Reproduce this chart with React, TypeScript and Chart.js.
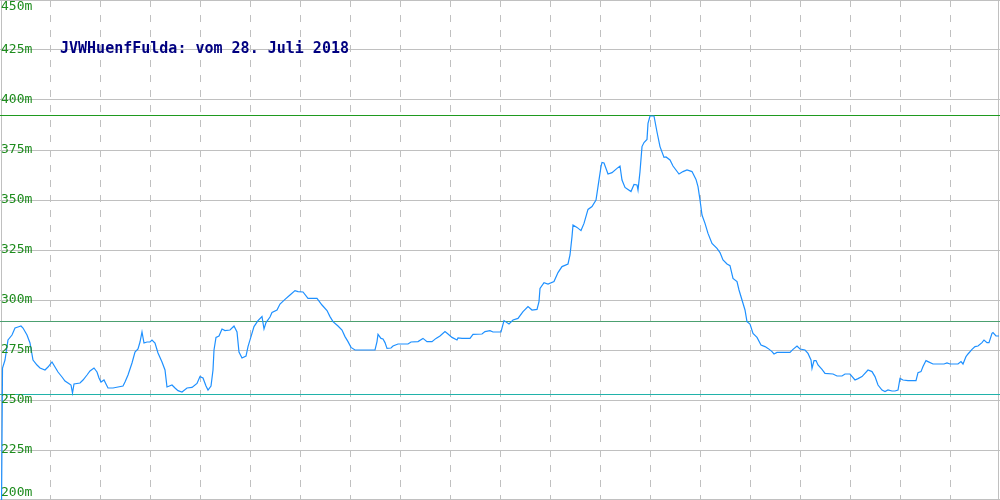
import { useEffect, useRef } from "react";
import { Chart, registerables } from "chart.js";

Chart.register(...registerables);

const chartTitle = "JVWHuenfFulda: vom 28. Juli 2018";
const yTicks = [200, 225, 250, 275, 300, 325, 350, 375, 400, 425, 450];
const yTickLabels = yTicks.map((v) => `${v}m`);
const xGridLines = [50, 100, 150, 200, 250, 300, 350, 400, 450, 500, 550, 600, 650, 700, 750, 800, 850, 900, 950];
const maxAlt = 392;
const avgAlt = 289.5;
const minAlt = 253;

// distance along track (sample position) and altitude in metres
const dist = [
  1.5, 2.5, 5, 8, 12, 15, 18, 21, 23, 27, 30, 33, 37, 40, 45, 48, 52, 55, 58, 62, 65, 68, 71, 72.5, 74, 80, 83, 87, 90, 94,
  97, 99, 101, 104, 106, 108, 113, 118, 123, 125, 128, 132, 135, 138, 140, 142, 144, 147, 150, 152, 155, 158, 162, 165, 167,
  172, 175, 178, 182, 187, 192, 197, 200, 203, 206, 208, 211, 213, 214, 216, 219, 222, 225, 230, 234, 237, 239, 242, 246,
  248, 251, 254, 258, 262, 264, 266, 270, 272, 277, 280, 285, 290, 295, 298, 303, 308, 317, 322, 327, 330, 333, 338, 342,
  345, 348, 351, 355, 375, 377, 378, 381, 383, 385, 387, 391, 393, 398, 408, 411, 418, 423, 427, 432, 436, 440, 445, 448,
  452, 457, 458, 462, 470, 473, 482, 485, 490, 493, 501, 504, 509, 513, 518, 523, 528, 532, 537, 539, 540, 544, 548, 554,
  558, 562, 568, 570, 572, 573, 577, 581, 584, 588, 592, 596, 598, 601, 602, 604, 608, 612, 617, 620, 622, 625, 628, 631,
  634, 637, 638, 640, 642, 644, 647, 648, 650, 654, 657, 660, 664, 666, 670, 673, 679, 683, 687, 692, 696, 698, 700, 702,
  705, 708, 712, 717, 720, 723, 727, 730, 733, 737, 739, 742, 745, 747, 750, 753, 757, 761, 765, 768, 772, 774, 777, 790,
  793, 797, 800, 805, 808, 811, 812, 814, 816, 818, 822, 825, 833, 837, 842, 845, 850, 855, 858, 862, 868, 872, 875, 878,
  882, 885, 888, 892, 895, 898, 900, 903, 908, 916, 918, 921, 923, 926, 928, 933, 944, 947, 950, 958, 961, 963, 966, 968,
  972, 975, 978, 982, 984, 987, 989, 992, 993, 996, 999,
];
const alt = [
  195, 266, 270, 280, 282.5, 286, 286.5, 287, 286, 282.5, 278.5, 270, 267.5, 266, 265, 266.5, 269, 266.5, 264, 261.5, 259.5,
  258.5, 257.5, 253.5, 258, 258.5, 260, 262.5, 264.5, 266, 264, 261, 259, 260, 258, 256, 256, 256.5, 257, 259, 262.5, 268.5,
  274, 275.5, 279, 284, 278.5, 279, 279, 280, 278.5, 273.5, 269, 265, 256.5,
  257.5, 256, 254.7, 254, 256, 256.3, 258.3, 261.7, 261, 257, 255, 257, 265, 275, 281.3, 282, 285.5, 284.7, 285, 287, 284,
  274, 271, 272, 276.7, 281.7, 286.7, 289.7, 291.7, 285.5, 288.7, 291.5, 293.8, 295, 298, 300.3, 302.5, 304.7, 304.2, 304,
  300.8, 300.8, 297.5, 294.7, 291.7, 289.2, 287, 285, 281.7, 279.2, 276.3, 275, 275, 279.2, 282.8, 280.8, 280.5, 278.7,
  275.8, 276, 277, 278, 278, 279, 279.2, 280.8, 279.2, 279.2, 280.8, 282, 284.2, 283, 281.3, 280, 281, 280.8, 280.8, 282.8,
  283, 284.2, 284.7, 284, 284, 289.7, 288, 290, 290.8, 294.2, 296.7, 295, 295.3, 299.2, 305.8, 308.7, 308, 309.2, 313.7,
  316.7, 318, 322.5, 331.7, 337.5, 336.3, 334.7, 338.3, 345.3, 346.7, 350, 356.7, 366.7, 368.8, 368.5, 363, 363.7, 365.8,
  367, 360, 356.3, 355.3, 354.2, 357.8, 357.5, 355, 364.2, 376.7, 378.7, 380.3, 388.3, 392, 392, 384, 376.7, 371.3, 371.5,
  370, 367, 363, 364.2, 365, 364.2, 360.3, 356.7, 350, 342.5, 338.3, 333.3, 328.3, 325.8, 323.7, 320, 318, 317.2, 310.8,
  309.2, 305, 300, 295, 289.2, 288, 283.3, 281.3, 277.5, 276.7, 275.8, 274.2, 273, 273.8, 273.8, 275.3, 277, 275.5, 275,
  273.3, 270, 265.8, 269.7, 269.7, 267.5, 265.3, 263.3, 263, 262, 262, 263, 263, 260, 260.7, 261.7, 265, 264.2, 261.7,
  257.5, 255, 254.2, 255, 254.5, 254.5, 255, 260.8, 260, 259.7, 259.7, 263.7, 264.2, 266.7, 269.7, 269.2, 268, 268, 268.5,
  268, 268, 269.2, 268, 271.7, 273, 275.3, 276.7, 277, 278.7, 280, 278.7, 278.7, 283.3, 283.7, 282, 282,
];

const decorPlugin = {
  id: "decor",
  beforeDatasetsDraw(chart: any) {
    const { ctx, chartArea, scales } = chart;
    const xs = scales.x;
    const ys = scales.y;
    const w = chartArea.right - chartArea.left;
    ctx.save();
    ctx.fillStyle = "#c0c0c0";
    yTicks.forEach((v) => {
      const py = Math.min(Math.floor(ys.getPixelForValue(v)), chartArea.bottom - 1);
      ctx.fillRect(chartArea.left, py, w, 1);
    });
    xGridLines.forEach((v) => {
      const px = Math.floor(xs.getPixelForValue(v));
      for (let y = chartArea.top; y < chartArea.bottom; y += 15) {
        ctx.fillRect(px, y, 1, 7);
      }
    });
    ctx.fillRect(chartArea.left + 1, chartArea.top, 1, chartArea.bottom - chartArea.top);
    ctx.fillRect(chartArea.right - 2, chartArea.top, 1, chartArea.bottom - chartArea.top);
    const stat = (v: number, color: string) => {
      const py = Math.floor(ys.getPixelForValue(v));
      ctx.fillStyle = color;
      ctx.fillRect(chartArea.left, py, w, 1);
    };
    stat(maxAlt, "#1f9a1f");
    stat(avgAlt, "#4ca070");
    stat(minAlt, "#20b2aa");
    ctx.restore();
  },
  afterDatasetsDraw(chart: any) {
    const { ctx, chartArea, scales } = chart;
    const ys = scales.y;
    ctx.save();
    ctx.font = "13px 'DejaVu Sans Mono'";
    ctx.fillStyle = "#1e8c1e";
    ctx.textAlign = "left";
    ctx.textBaseline = "middle";
    yTicks.forEach((v, i) => {
      let py = ys.getPixelForValue(v) - 0.5;
      py = Math.max(chartArea.top + 7, Math.min(chartArea.bottom - 7, py));
      ctx.fillText(yTickLabels[i], chartArea.left + 1, py);
    });
    ctx.font = "bold 15px 'DejaVu Sans Mono'";
    ctx.fillStyle = "#000080";
    ctx.textBaseline = "alphabetic";
    ctx.fillText(chartTitle, chartArea.left + 60, chartArea.top + 53);
    ctx.restore();
  },
};

export default function App() {
  const canvasRef = useRef<HTMLCanvasElement | null>(null);

  useEffect(() => {
    document.body.style.margin = "0";
    const canvas = canvasRef.current;
    if (!canvas) return;
    const chart = new Chart(canvas, {
      type: "line",
      data: {
        datasets: [
          {
            data: dist.map((d, i) => ({ x: d, y: alt[i] })),
            borderColor: "#1e90ff",
            borderWidth: 1.2,
            pointRadius: 0,
            tension: 0,
            fill: false,
          },
        ],
      },
      options: {
        responsive: false,
        animation: false,
        devicePixelRatio: 1,
        layout: { padding: 0 },
        plugins: { legend: { display: false }, tooltip: { enabled: false }, title: { display: false } },
        scales: {
          x: { type: "linear", min: 0, max: 1000, display: false },
          y: { type: "linear", min: 200, max: 450, display: false },
        },
      },
      plugins: [decorPlugin],
    });
    return () => chart.destroy();
  }, []);

  return (
    <div style={{ width: 1000, height: 500, background: "#ffffff" }}>
      <canvas ref={canvasRef} width={1000} height={500} style={{ display: "block" }} />
    </div>
  );
}
